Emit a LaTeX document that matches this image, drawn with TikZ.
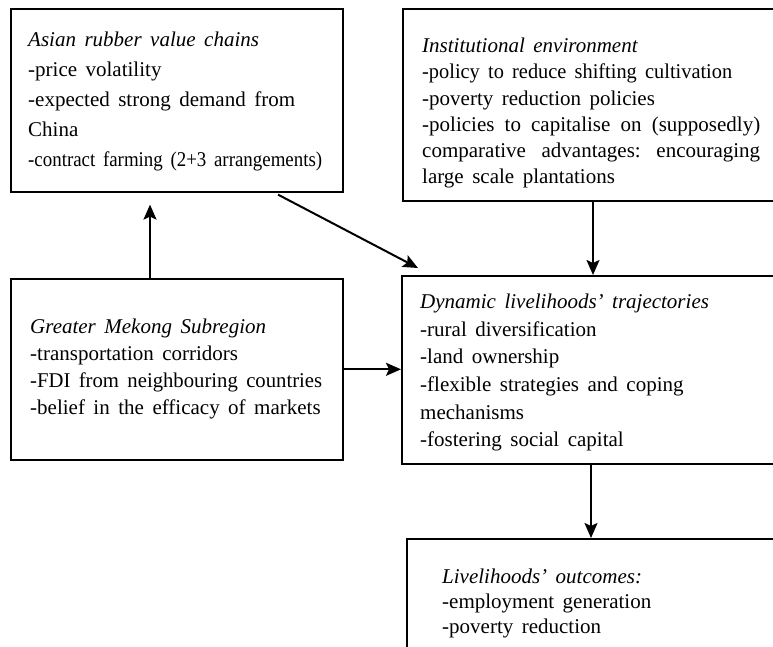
\documentclass[tikz,border=0pt]{standalone}
\usepackage{fontspec}
\setmainfont{Liberation Serif}
\usetikzlibrary{arrows.meta}
\newcommand\boxfont[1]{\fontsize{21}{#1}\selectfont\spaceskip=8.5pt plus 1pt\relax}
\newcommand\fitline[2]{\resizebox{#1}{\height}{#2}}

\begin{document}
\begin{tikzpicture}[x=1pt,y=-1pt,
  box/.style={draw,line width=1.6pt,anchor=north west,inner sep=0pt},
  txt/.style={anchor=north west,inner sep=0pt,align=left},
  arr/.style={line width=2pt,-{Stealth[length=15pt,width=13pt,inset=3pt]}}]
\path[use as bounding box,clip] (0,0) rectangle (773,646);
% boxes
\node[box,minimum width=332pt,minimum height=183pt] (rubber) at (10,8) {};
\node[box,minimum width=398pt,minimum height=192pt] (inst) at (402,8) {};
\node[box,minimum width=332pt,minimum height=181pt] (gms) at (10,278) {};
\node[box,minimum width=399pt,minimum height=188pt] (traj) at (401,275) {};
\node[box,minimum width=394pt,minimum height=140pt] (outc) at (406,538) {};
% texts
\node[txt,font=\boxfont{30}] (rubbertxt) at (28,32) {\textit{Asian rubber value chains}\\
-price volatility\\-expected strong demand from\\China\\\fitline{294pt}{-contract farming (2+3 arrangements)}};
\node[txt,font=\boxfont{26.2}] (insttxt) at (422,38) {\textit{Institutional environment}\\
\fitline{310pt}{-policy to reduce shifting cultivation}\\-poverty reduction policies\\
\hbox to 338pt{-policies to capitalise on (supposedly)}\\
\hbox to 338pt{comparative\hfill advantages:\hfill encouraging}\\large scale plantations};
\node[txt,font=\boxfont{27}] (gmstxt) at (30,319) {\textit{Greater Mekong Subregion}\\
-transportation corridors\\\fitline{292pt}{-FDI from neighbouring countries}\\-belief in the efficacy of markets};
\node[txt,font=\boxfont{27.6}] (trajtxt) at (420,294) {\textit{Dynamic livelihoods’ trajectories}\\
-rural diversification\\-land ownership\\-flexible strategies and coping\\mechanisms\\-fostering social capital};
\node[txt,font=\boxfont{25}] (outctxt) at (442,569) {\textit{Livelihoods’ outcomes:}\\
-employment generation\\-poverty reduction};
% arrows
\draw[arr] ([xshift=140pt]gms.north west) -- ([xshift=140pt,yshift=-12pt]rubber.south west);
\draw[arr] ([xshift=268pt,yshift=-2pt]rubber.south west) -- ([xshift=17pt,yshift=7pt]traj.north west);
\draw[arr] ([xshift=191pt]inst.south west) -- ([xshift=192pt]traj.north west);
\draw[arr] (gms.east) -- (gms.east -| traj.west);
\draw[arr] ([xshift=190pt]traj.south west) -- ([xshift=185pt]outc.north west);
\end{tikzpicture}
\end{document}
